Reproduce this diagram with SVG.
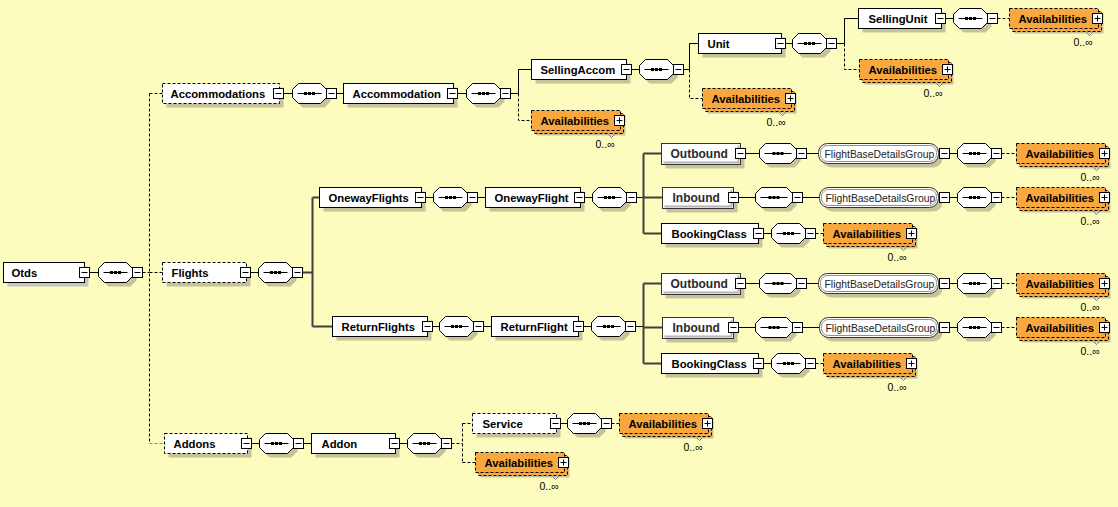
<svg xmlns="http://www.w3.org/2000/svg" width="1118" height="507" viewBox="0 0 1118 507">
<style>
.bg{fill:#FCFCBF}
.box{fill:#fff;stroke:#000;stroke-width:1}
.opt{fill:#fff;stroke:#000;stroke-width:1;stroke-dasharray:3,2}
.ref{fill:#fff;stroke:#333;stroke-width:1}
.refin{fill:none;stroke:#b4b4b4;stroke-width:2}
.grp{fill:#fff;stroke:#333;stroke-width:1}
.grpin{fill:none;stroke:#909090;stroke-width:1}
.sh{fill:#C6C299}
.shg{fill:#C4C4C4}
.av{fill:#F8A83E;stroke:#000;stroke-width:1;stroke-dasharray:3,2}
.oct{fill:#fff;stroke:#000;stroke-width:1}
.t{font-family:"Liberation Sans",Arial,sans-serif;font-weight:bold;font-size:11.3px;fill:#000}
.tr{font-family:"Liberation Sans",Arial,sans-serif;font-weight:bold;font-size:12px;fill:#2a2a2a}
.tg{font-family:"Liberation Sans",Arial,sans-serif;font-size:10.4px;fill:#222}
.tn{font-family:"Liberation Sans",Arial,sans-serif;font-size:10.5px;fill:#000}
.ln{fill:none;stroke:#000;stroke-width:1}
.dl{fill:none;stroke:#000;stroke-width:1;stroke-dasharray:3,2}
.dg{fill:none;stroke:#888;stroke-width:1;stroke-dasharray:3,2}
.th{fill:none;stroke:#404040;stroke-width:2}
</style>
<defs>
<g id="minus"><rect x="0" y="0" width="10" height="10" fill="#fff" stroke="#000"/><line x1="2" y1="5" x2="8" y2="5" stroke="#000"/></g>
<g id="plus"><rect x="0" y="0" width="10" height="10" fill="#fff" stroke="#000"/><line x1="2" y1="5" x2="8" y2="5" stroke="#000"/><line x1="5" y1="2" x2="5" y2="8" stroke="#000"/></g>
<g id="seq">
<polygon class="sh" points="4,10 10,4 32,4 38,10 38,18 32,24 10,24 4,18"/>
<polygon class="oct" points="0,6 6,0 28,0 34,6 34,14 28,20 6,20 0,14"/>
<line x1="5" y1="10" x2="29" y2="10" stroke="#000"/>
<rect x="11.5" y="8.5" width="3" height="3" fill="#000"/><rect x="15.5" y="8.5" width="3" height="3" fill="#000"/><rect x="19.5" y="8.5" width="3" height="3" fill="#000"/>
<use href="#minus" x="34" y="5"/>
</g>
<g id="seq37">
<polygon class="sh" points="4,10 10,4 35,4 41,10 41,18 35,24 10,24 4,18"/>
<polygon class="oct" points="0,6 6,0 31,0 37,6 37,14 31,20 6,20 0,14"/>
<line x1="5" y1="10" x2="32" y2="10" stroke="#000"/>
<rect x="13" y="8.5" width="3" height="3" fill="#000"/><rect x="17" y="8.5" width="3" height="3" fill="#000"/><rect x="21" y="8.5" width="3" height="3" fill="#000"/>
<use href="#minus" x="37" y="5"/>
</g>
<g id="avail">
<rect class="sh" x="5" y="5" width="89" height="20"/>
<rect class="av" x="3" y="3" width="89" height="20"/>
<rect class="av" x="0" y="0" width="89" height="20"/>
<text class="t" x="9" y="14">Availabilities</text>
<use href="#plus" x="83" y="5"/>
<polyline points="77,24 80,27 83,24" fill="none" stroke="#777"/>
<text class="tn" x="64" y="37">0..∞</text>
</g>
</defs>
<rect class="bg" x="0" y="0" width="1118" height="507"/>
<g transform="translate(0.5,0.5)">
<g id="connectors">
<path class="ln" d="M89,272H98M283,93H292M336,93H343M457,93H466M510,93H518M518,93V69H531M631,69H639M683,69H689M689,69V43H698M785,43H792M836,43H844M844,43V18H858M945,18H953"/>
<path class="dl" d="M518,93V120H531M689,69V98H702M844,43V69H859M997,18H1009"/>
<path class="dl" d="M142,272H149M149,93V443M149,93H162M149,272H162"/>
<path class="dg" d="M149,443H164"/>
<path class="ln" d="M250,272H258"/>
<path class="th" d="M302,272H312M312,197V326M312,197H319M312,326H332"/>
<path class="ln" d="M425,197H433M477,197H485M584,197H592M636,197H643"/>
<path class="th" d="M643,153V233M643,153H661M643,197H662M643,233H661"/>
<path class="ln" d="M745,153H759M806,153H818M949,153H957M738,197H755M802,197H819M949,197H957M763,233H771"/>
<path class="dl" d="M1001,153H1016M1001,197H1016M815,233H823"/>
<path class="ln" d="M432,326H439M483,326H491M583,326H591M635,326H643"/>
<path class="th" d="M643,283V363M643,283H661M643,327H662M643,363H661"/>
<path class="ln" d="M745,283H759M806,283H818M949,283H957M738,327H755M802,327H819M949,327H957M763,363H771"/>
<path class="dl" d="M1001,283H1016M1001,327H1016M815,363H823"/>
<path class="ln" d="M251,443H259M303,443H311M399,443H407M560,423H567"/>
<path class="dl" d="M451,443H462M462,423V462M462,423H472M462,462H475M611,423H619"/>
</g>
<g id="otds"><rect class="shg" x="7" y="266" width="81" height="20"/><rect class="box" x="3" y="262" width="81" height="20"/><use href="#minus" x="79" y="267"/><text class="t" x="11" y="276">Otds</text></g>
<g id="otds-seq"><use href="#seq" x="98" y="262"/></g>
<g id="accommodations"><rect class="sh" x="166" y="87" width="117" height="20"/><rect class="opt" x="162" y="83" width="117" height="20"/><use href="#minus" x="273" y="88"/><text class="t" x="170" y="97">Accommodations</text></g>
<g id="accommodations-seq"><use href="#seq" x="292" y="83"/></g>
<g id="accommodation"><rect class="sh" x="347" y="87" width="110" height="20"/><rect class="box" x="343" y="83" width="110" height="20"/><use href="#minus" x="447" y="88"/><text class="t" x="352" y="97">Accommodation</text></g>
<g id="accommodation-seq"><use href="#seq" x="466" y="83"/></g>
<g id="sellingaccom"><rect class="sh" x="535" y="63" width="95" height="20"/><rect class="box" x="531" y="59" width="95" height="20"/><use href="#minus" x="621" y="64"/><text class="t" x="540" y="73">SellingAccom</text></g>
<g id="sellingaccom-seq"><use href="#seq" x="639" y="59"/></g>
<g id="unit"><rect class="sh" x="702" y="37" width="83" height="20"/><rect class="box" x="698" y="33" width="83" height="20"/><use href="#minus" x="775" y="38"/><text class="t" x="707" y="47">Unit</text></g>
<g id="unit-seq"><use href="#seq" x="792" y="33"/></g>
<g id="sellingunit"><rect class="sh" x="862" y="12" width="83" height="20"/><rect class="box" x="858" y="8" width="83" height="20"/><use href="#minus" x="935" y="13"/><text class="t" x="868" y="22">SellingUnit</text></g>
<g id="sellingunit-seq"><use href="#seq" x="953" y="8"/></g>
<g id="avail-sellingunit"><use href="#avail" x="1009" y="8"/></g>
<g id="avail-unit"><use href="#avail" x="859" y="59"/></g>
<g id="avail-sellingaccom"><use href="#avail" x="702" y="88"/></g>
<g id="avail-accommodation"><use href="#avail" x="531" y="110"/></g>
<g id="flights"><rect class="sh" x="166" y="266" width="84" height="20"/><rect class="opt" x="162" y="262" width="84" height="20"/><use href="#minus" x="240" y="267"/><text class="t" x="171" y="276">Flights</text></g>
<g id="flights-seq"><use href="#seq" x="258" y="262"/></g>
<g id="onewayflights"><rect class="sh" x="323" y="191" width="102" height="20"/><rect class="box" x="319" y="187" width="102" height="20"/><use href="#minus" x="415" y="192"/><text class="t" x="328" y="201">OnewayFlights</text></g>
<g id="onewayflights-seq"><use href="#seq" x="433" y="187"/></g>
<g id="onewayflight"><rect class="sh" x="489" y="191" width="95" height="20"/><rect class="box" x="485" y="187" width="95" height="20"/><use href="#minus" x="574" y="192"/><text class="t" x="494" y="201">OnewayFlight</text></g>
<g id="onewayflight-seq"><use href="#seq" x="592" y="187"/></g>
<g id="outbound1"><rect class="sh" x="665" y="147" width="79" height="21"/><rect class="ref" x="661" y="143" width="79" height="21"/><polyline class="refin" points="738,145 738,162 663,162"/><use href="#minus" x="735" y="148"/><text class="tr" x="670" y="157">Outbound</text></g>
<g id="outbound1-seq"><use href="#seq37" x="759" y="143"/></g>
<g id="fbdg1"><rect class="sh" x="822" y="147" width="120" height="20" rx="9"/><rect class="grp" x="818" y="143" width="120" height="20" rx="9"/><rect class="grpin" x="820" y="145" width="116" height="16" rx="7"/><use href="#minus" x="939" y="148"/><text class="tg" x="824" y="157">FlightBaseDetailsGroup</text></g>
<g id="fbdg1-seq"><use href="#seq" x="957" y="143"/></g>
<g id="avail-outbound1"><use href="#avail" x="1016" y="143"/></g>
<g id="inbound1"><rect class="sh" x="666" y="191" width="71" height="21"/><rect class="ref" x="662" y="187" width="71" height="21"/><polyline class="refin" points="731,189 731,206 664,206"/><use href="#minus" x="728" y="192"/><text class="tr" x="672" y="201">Inbound</text></g>
<g id="inbound1-seq"><use href="#seq37" x="755" y="187"/></g>
<g id="fbdg2"><rect class="sh" x="823" y="191" width="119" height="20" rx="9"/><rect class="grp" x="819" y="187" width="119" height="20" rx="9"/><rect class="grpin" x="821" y="189" width="115" height="16" rx="7"/><use href="#minus" x="939" y="192"/><text class="tg" x="825" y="201">FlightBaseDetailsGroup</text></g>
<g id="fbdg2-seq"><use href="#seq" x="957" y="187"/></g>
<g id="avail-inbound1"><use href="#avail" x="1016" y="187"/></g>
<g id="bookingclass1"><rect class="sh" x="665" y="227" width="97" height="20"/><rect class="box" x="661" y="223" width="97" height="20"/><use href="#minus" x="753" y="228"/><text class="t" x="671" y="237">BookingClass</text></g>
<g id="bookingclass1-seq"><use href="#seq" x="771" y="223"/></g>
<g id="avail-bookingclass1"><use href="#avail" x="823" y="223"/></g>
<g id="returnflights"><rect class="sh" x="336" y="320" width="95" height="20"/><rect class="box" x="332" y="316" width="95" height="20"/><use href="#minus" x="422" y="321"/><text class="t" x="341" y="330">ReturnFlights</text></g>
<g id="returnflights-seq"><use href="#seq" x="439" y="316"/></g>
<g id="returnflight"><rect class="sh" x="495" y="320" width="87" height="20"/><rect class="box" x="491" y="316" width="87" height="20"/><use href="#minus" x="573" y="321"/><text class="t" x="500" y="330">ReturnFlight</text></g>
<g id="returnflight-seq"><use href="#seq" x="591" y="316"/></g>
<g id="outbound2"><rect class="sh" x="665" y="277" width="79" height="21"/><rect class="ref" x="661" y="273" width="79" height="21"/><polyline class="refin" points="738,275 738,292 663,292"/><use href="#minus" x="735" y="278"/><text class="tr" x="670" y="287">Outbound</text></g>
<g id="outbound2-seq"><use href="#seq37" x="759" y="273"/></g>
<g id="fbdg3"><rect class="sh" x="822" y="277" width="120" height="20" rx="9"/><rect class="grp" x="818" y="273" width="120" height="20" rx="9"/><rect class="grpin" x="820" y="275" width="116" height="16" rx="7"/><use href="#minus" x="939" y="278"/><text class="tg" x="824" y="287">FlightBaseDetailsGroup</text></g>
<g id="fbdg3-seq"><use href="#seq" x="957" y="273"/></g>
<g id="avail-outbound2"><use href="#avail" x="1016" y="273"/></g>
<g id="inbound2"><rect class="sh" x="666" y="321" width="71" height="21"/><rect class="ref" x="662" y="317" width="71" height="21"/><polyline class="refin" points="731,319 731,336 664,336"/><use href="#minus" x="728" y="322"/><text class="tr" x="672" y="331">Inbound</text></g>
<g id="inbound2-seq"><use href="#seq37" x="755" y="317"/></g>
<g id="fbdg4"><rect class="sh" x="823" y="321" width="119" height="20" rx="9"/><rect class="grp" x="819" y="317" width="119" height="20" rx="9"/><rect class="grpin" x="821" y="319" width="115" height="16" rx="7"/><use href="#minus" x="939" y="322"/><text class="tg" x="825" y="331">FlightBaseDetailsGroup</text></g>
<g id="fbdg4-seq"><use href="#seq" x="957" y="317"/></g>
<g id="avail-inbound2"><use href="#avail" x="1016" y="317"/></g>
<g id="bookingclass2"><rect class="sh" x="665" y="357" width="97" height="20"/><rect class="box" x="661" y="353" width="97" height="20"/><use href="#minus" x="753" y="358"/><text class="t" x="671" y="367">BookingClass</text></g>
<g id="bookingclass2-seq"><use href="#seq" x="771" y="353"/></g>
<g id="avail-bookingclass2"><use href="#avail" x="823" y="353"/></g>
<g id="addons"><rect class="sh" x="168" y="437" width="83" height="20"/><rect class="opt" x="164" y="433" width="83" height="20"/><use href="#minus" x="241" y="438"/><text class="t" x="173" y="447">Addons</text></g>
<g id="addons-seq"><use href="#seq" x="259" y="433"/></g>
<g id="addon"><rect class="sh" x="315" y="437" width="84" height="20"/><rect class="box" x="311" y="433" width="84" height="20"/><use href="#minus" x="389" y="438"/><text class="t" x="321" y="447">Addon</text></g>
<g id="addon-seq"><use href="#seq" x="407" y="433"/></g>
<g id="service"><rect class="sh" x="476" y="417" width="84" height="20"/><rect class="opt" x="472" y="413" width="84" height="20"/><use href="#minus" x="550" y="418"/><text class="t" x="482" y="427">Service</text></g>
<g id="service-seq"><use href="#seq" x="567" y="413"/></g>
<g id="avail-service"><use href="#avail" x="619" y="413"/></g>
<g id="avail-addon"><use href="#avail" x="475" y="452"/></g>
</g>
</svg>
